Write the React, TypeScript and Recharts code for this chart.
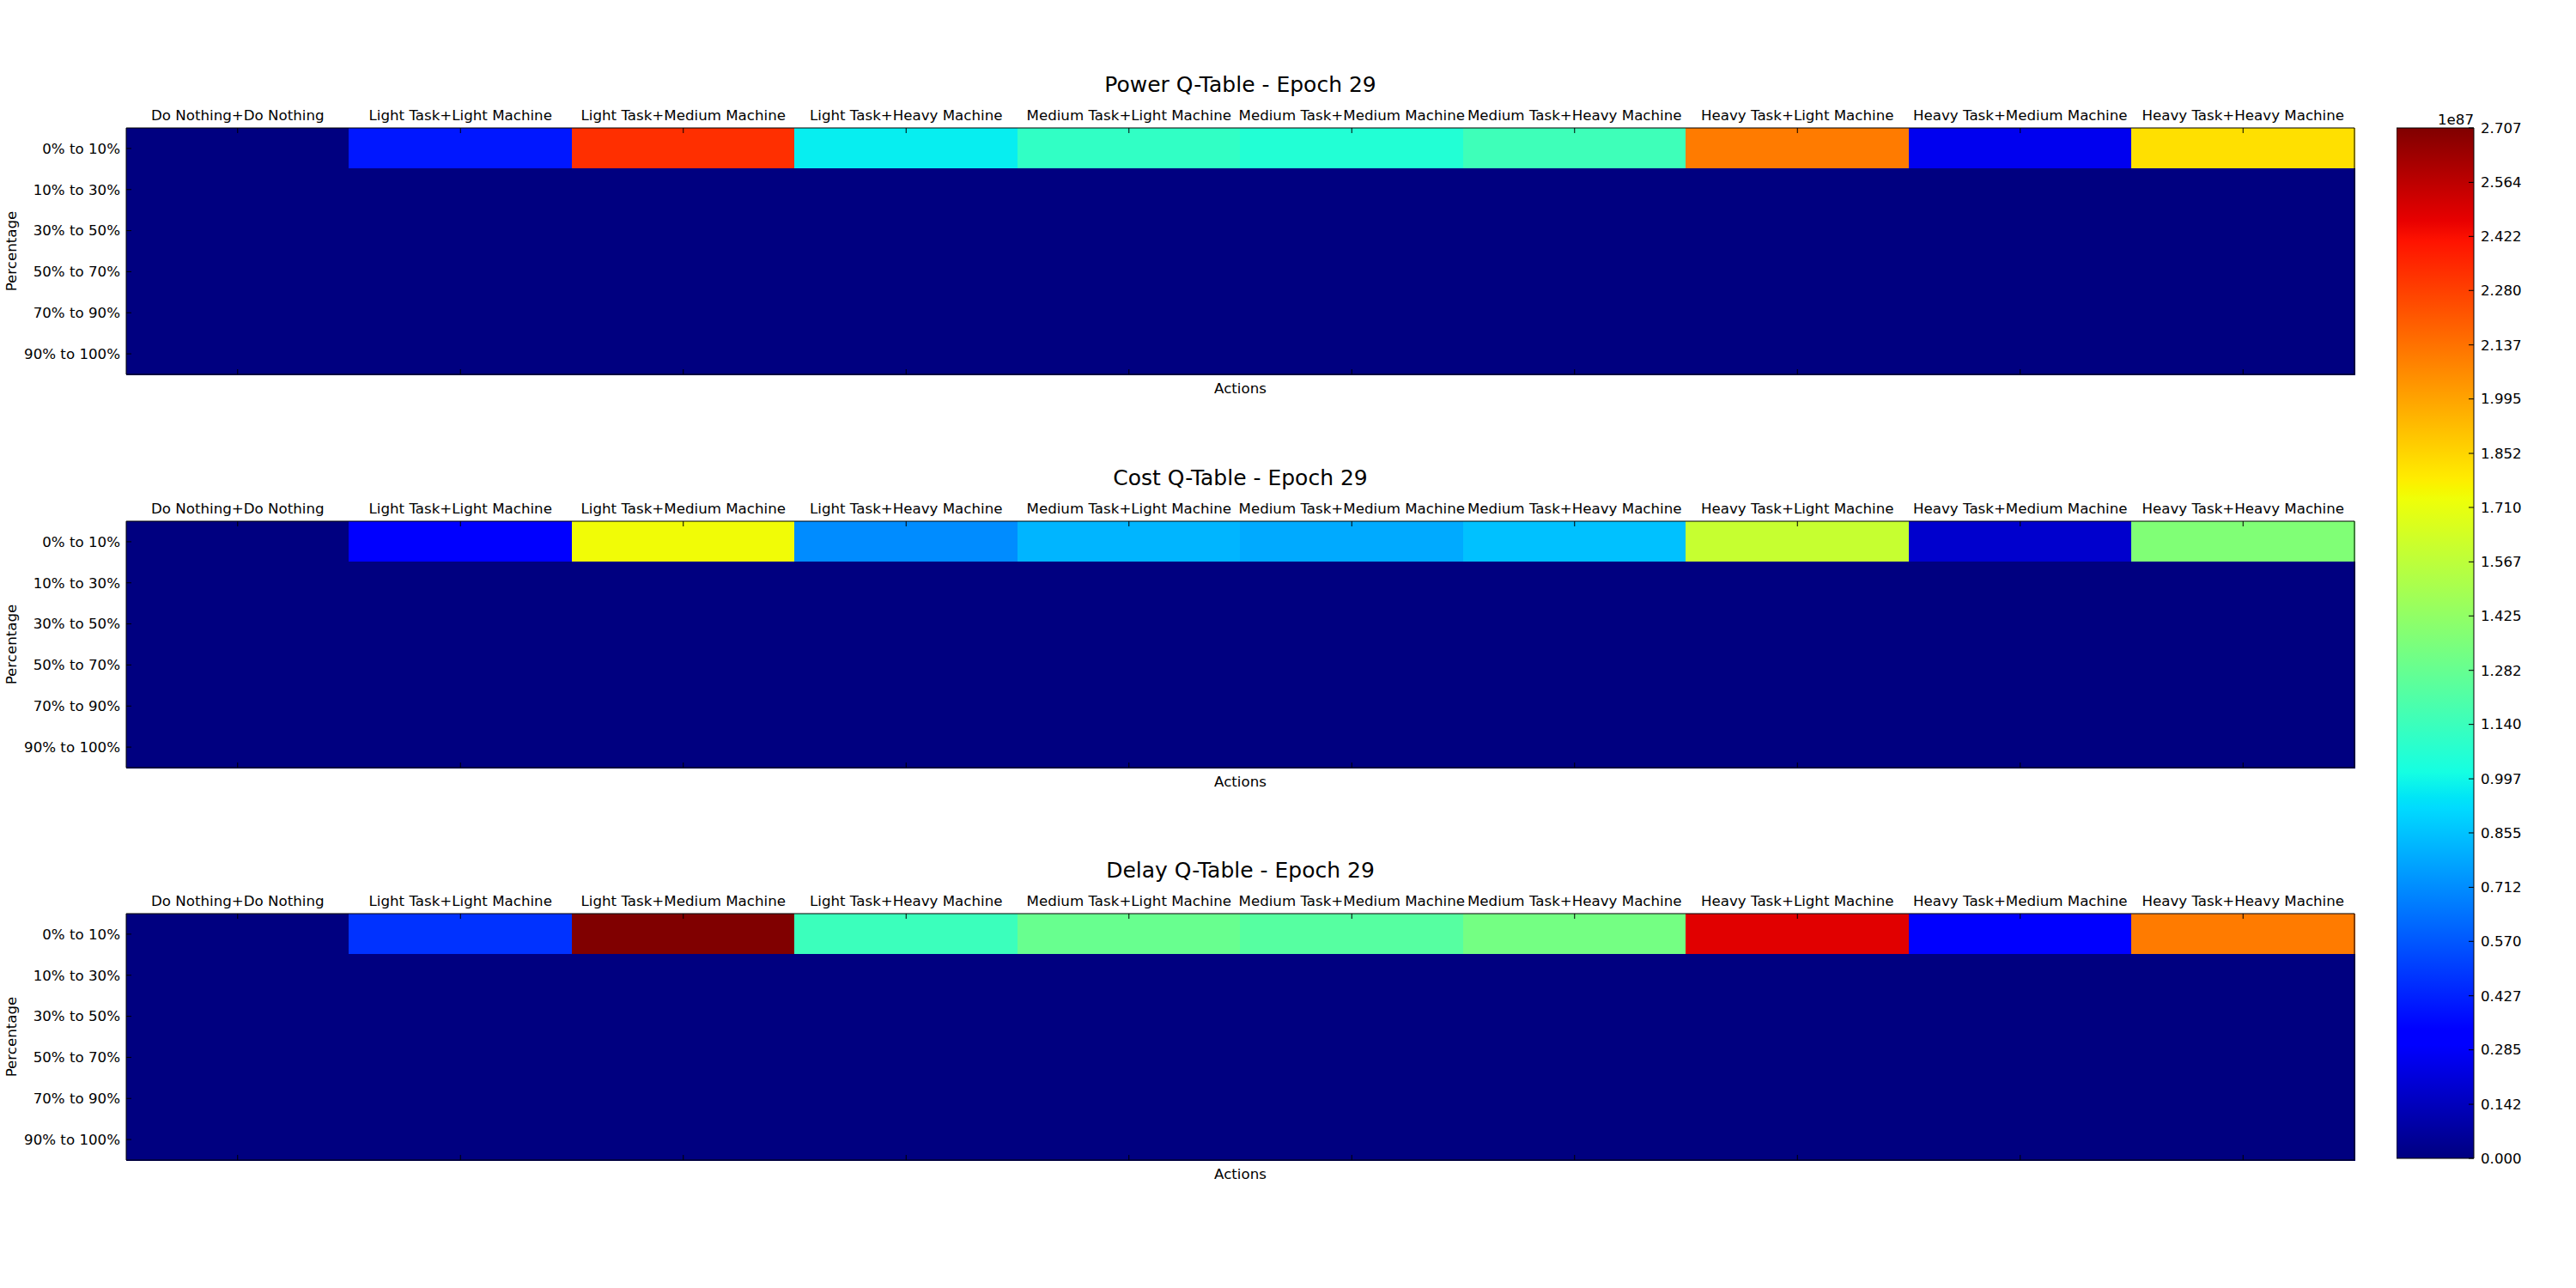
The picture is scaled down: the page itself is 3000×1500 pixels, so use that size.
import { BarChart, Bar, XAxis, YAxis, Cell } from "recharts";

// actions (columns) and state buckets (rows)
const actions = [
  "Do Nothing+Do Nothing",
  "Light Task+Light Machine",
  "Light Task+Medium Machine",
  "Light Task+Heavy Machine",
  "Medium Task+Light Machine",
  "Medium Task+Medium Machine",
  "Medium Task+Heavy Machine",
  "Heavy Task+Light Machine",
  "Heavy Task+Medium Machine",
  "Heavy Task+Heavy Machine",
];
const percentages = [
  "0% to 10%",
  "10% to 30%",
  "30% to 50%",
  "50% to 70%",
  "70% to 90%",
  "90% to 100%",
];

// Q values, in units of 1e7
const powerTable = [
  [0, 0.4, 2.33, 0.97, 1.11, 1.06, 1.15, 2.11, 0.26, 1.82],
  [0, 0, 0, 0, 0, 0, 0, 0, 0, 0],
  [0, 0, 0, 0, 0, 0, 0, 0, 0, 0],
  [0, 0, 0, 0, 0, 0, 0, 0, 0, 0],
  [0, 0, 0, 0, 0, 0, 0, 0, 0, 0],
  [0, 0, 0, 0, 0, 0, 0, 0, 0, 0],
];
const costTable = [
  [0, 0.32, 1.74, 0.71, 0.82, 0.79, 0.85, 1.6, 0.18, 1.37],
  [0, 0, 0, 0, 0, 0, 0, 0, 0, 0],
  [0, 0, 0, 0, 0, 0, 0, 0, 0, 0],
  [0, 0, 0, 0, 0, 0, 0, 0, 0, 0],
  [0, 0, 0, 0, 0, 0, 0, 0, 0, 0],
  [0, 0, 0, 0, 0, 0, 0, 0, 0, 0],
];
const delayTable = [
  [0, 0.47, 2.707, 1.14, 1.29, 1.23, 1.33, 2.48, 0.32, 2.11],
  [0, 0, 0, 0, 0, 0, 0, 0, 0, 0],
  [0, 0, 0, 0, 0, 0, 0, 0, 0, 0],
  [0, 0, 0, 0, 0, 0, 0, 0, 0, 0],
  [0, 0, 0, 0, 0, 0, 0, 0, 0, 0],
  [0, 0, 0, 0, 0, 0, 0, 0, 0, 0],
];

const vmax = 2.707;
const colorbarTicks = [
  0, 0.142, 0.285, 0.427, 0.57, 0.712, 0.855, 0.997, 1.14, 1.282, 1.425, 1.567,
  1.71, 1.852, 1.995, 2.137, 2.28, 2.422, 2.564, 2.707,
];

const panels = [
  { title: "Power Q-Table - Epoch 29", table: powerTable },
  { title: "Cost Q-Table - Epoch 29", table: costTable },
  { title: "Delay Q-Table - Epoch 29", table: delayTable },
];

// matplotlib "jet" colormap
const interp = (t: number, pts: number[][]) => {
  for (let i = 1; i < pts.length; i++) {
    if (t <= pts[i][0]) {
      const [x0, y0] = pts[i - 1];
      const [x1, y1] = pts[i];
      return y0 + ((t - x0) / (x1 - x0)) * (y1 - y0);
    }
  }
  return pts[pts.length - 1][1];
};
const jet = (t: number) => {
  const v = Math.max(0, Math.min(1, t));
  const r = interp(v, [[0, 0], [0.35, 0], [0.66, 1], [0.89, 1], [1, 0.5]]);
  const g = interp(v, [[0, 0], [0.125, 0], [0.375, 1], [0.64, 1], [0.91, 0], [1, 0]]);
  const b = interp(v, [[0, 0.5], [0.11, 1], [0.34, 1], [0.65, 0], [1, 0]]);
  const h = (c: number) => Math.round(c * 255).toString(16).padStart(2, "0");
  return `#${h(r)}${h(g)}${h(b)}`;
};
const jetStops = [0, 0.11, 0.125, 0.34, 0.35, 0.375, 0.64, 0.65, 0.66, 0.89, 0.91, 1];

const font = { fontFamily: "DejaVu Sans", fontSize: 16.67, fill: "#000" };

// each action column holds one unit slot per percentage row
const slotRows = actions.map((action) => {
  const row: Record<string, string | number> = { action };
  percentages.forEach((_, r) => (row[`r${r}`] = 1));
  return row;
});

const TopTick = (props: any) => {
  const { x, y, payload } = props;
  return (
    <g>
      <text x={x} y={y} textAnchor="middle" style={font}>
        {payload.value}
      </text>
      <line x1={x} x2={x} y1={y + 9} y2={y + 15} stroke="#000" />
    </g>
  );
};

const BottomTick = (props: any) => {
  const { x, y } = props;
  return <line x1={x} x2={x} y1={y} y2={y - 6} stroke="#000" />;
};

const LeftTick = (props: any) => {
  const { x, y, payload } = props;
  return (
    <g>
      <text x={x} y={y} dy="0.35em" textAnchor="end" style={font}>
        {percentages[Math.floor(payload.value)]}
      </text>
      <line x1={x + 7} x2={x + 13} y1={y} y2={y} stroke="#000" />
    </g>
  );
};

const RightTick = (props: any) => {
  const { x, y } = props;
  return <line x1={x} x2={x - 6} y1={y} y2={y} stroke="#000" />;
};

const ColorbarTick = (props: any) => {
  const { x, y, payload } = props;
  return (
    <g>
      <text x={x} y={y} dy="0.35em" textAnchor="start" style={font}>
        {Number(payload.value).toFixed(3)}
      </text>
      <line x1={x - 8} x2={x - 14} y1={y} y2={y} stroke="#000" />
    </g>
  );
};

const rowTicks = [0.5, 1.5, 2.5, 3.5, 4.5, 5.5];

const QPanel = ({ title, table }: { title: string; table: number[][] }) => (
  <BarChart
    width={2760}
    height={478}
    data={slotRows}
    margin={{ top: 0, right: 17, bottom: 20, left: 0 }}
    barCategoryGap={0}
    barGap={0}
  >
    {percentages.map((_, r) => (
      <Bar
        key={r}
        dataKey={`r${r}`}
        stackId="q"
        xAxisId="top"
        yAxisId="left"
        isAnimationActive={false}
      >
        {actions.map((_, c) => {
          const color = jet(table[r][c] / vmax);
          return (
            <Cell
              key={c}
              fill={color}
              stroke={color}
              strokeWidth={1}
              shapeRendering="crispEdges"
            />
          );
        })}
      </Bar>
    ))}
    <XAxis
      xAxisId="top"
      dataKey="action"
      orientation="top"
      height={149}
      interval={0}
      tickSize={0}
      tickMargin={9}
      tick={<TopTick />}
      axisLine={{ stroke: "#000" }}
    />
    <XAxis
      xAxisId="bottom"
      dataKey="action"
      orientation="bottom"
      height={22}
      interval={0}
      tickSize={0}
      tickMargin={0}
      tick={<BottomTick />}
      axisLine={{ stroke: "#000" }}
    />
    <YAxis
      yAxisId="left"
      type="number"
      domain={[0, 6]}
      reversed
      ticks={rowTicks}
      width={147}
      tickSize={0}
      tickMargin={7}
      tick={<LeftTick />}
      axisLine={{ stroke: "#000" }}
    />
    <YAxis
      yAxisId="right"
      orientation="right"
      type="number"
      domain={[0, 6]}
      reversed
      ticks={rowTicks}
      width={1}
      tickSize={0}
      tickMargin={0}
      tick={<RightTick />}
      axisLine={{ stroke: "#000" }}
    />
    <text x={1444.5} y={107} textAnchor="middle" style={{ ...font, fontSize: 25 }}>
      {title}
    </text>
    <text x={1444.5} y={457.5} textAnchor="middle" style={font}>
      Actions
    </text>
    <text
      x={19}
      y={292.5}
      textAnchor="middle"
      transform="rotate(-90, 19, 292.5)"
      style={font}
    >
      Percentage
    </text>
  </BarChart>
);

const colorbarData = [{ name: "scale", v: vmax }];

const Colorbar = () => (
  <BarChart
    width={210}
    height={1240}
    data={colorbarData}
    margin={{ top: 20, right: 0, bottom: 20, left: 0 }}
    barCategoryGap={0}
  >
    <defs>
      <linearGradient id="jetGrad" x1="0" y1="1" x2="0" y2="0">
        {jetStops.map((s) => (
          <stop key={s} offset={s} stopColor={jet(s)} />
        ))}
      </linearGradient>
    </defs>
    <XAxis dataKey="name" hide />
    <YAxis
      orientation="right"
      type="number"
      domain={[0, vmax]}
      ticks={colorbarTicks}
      interval={0}
      width={120}
      tickSize={0}
      tickMargin={8}
      tick={<ColorbarTick />}
      axisLine={false}
    />
    <Bar
      dataKey="v"
      fill="url(#jetGrad)"
      stroke="#000"
      strokeWidth={1}
      isAnimationActive={false}
    />
    <text x={90} y={16} textAnchor="end" style={font}>
      1e87
    </text>
  </BarChart>
);

export default function App() {
  return (
    <div style={{ position: "absolute", left: 0, top: 0, width: 3000, height: 1500, background: "#fff" }}>
      {panels.map((p, i) => (
        <div key={p.title} style={{ position: "absolute", left: 0, top: [0, 458, 915][i] }}>
          <QPanel title={p.title} table={p.table} />
        </div>
      ))}
      <div style={{ position: "absolute", left: 2791, top: 129 }}>
        <Colorbar />
      </div>
    </div>
  );
}
